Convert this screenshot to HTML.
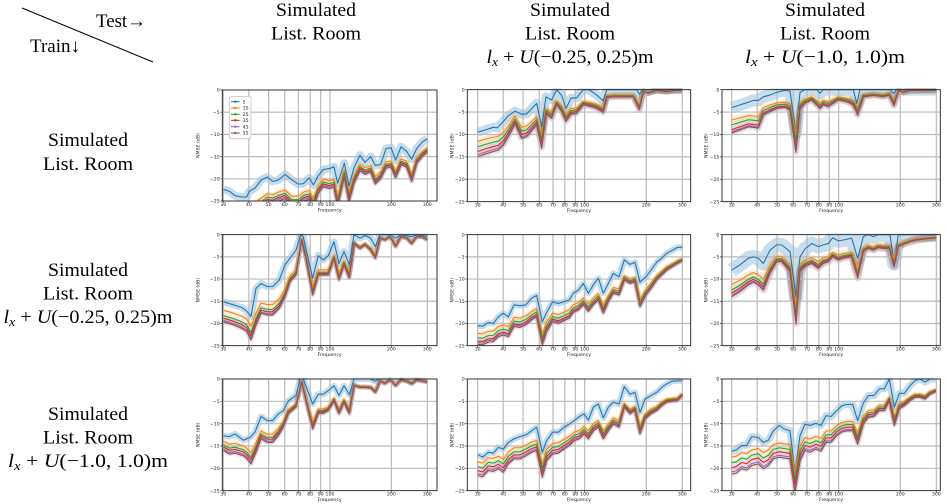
<!DOCTYPE html>
<html><head><meta charset="utf-8"><style>
html,body{margin:0;padding:0;background:#fff;overflow:hidden}
svg{display:block}
path,line,rect,circle,use{vector-effect:non-scaling-stroke}
.t{font-family:"Liberation Serif",serif;font-size:19px;fill:#000}
.k{font-family:"DejaVu Sans","Liberation Sans",sans-serif;font-size:14px;fill:#222}
</style></head><body>
<svg width="949" height="504" viewBox="0 0 949 504">
<defs>
<clipPath id="c1"><rect x="97" y="-0.3" width="644" height="25.3"/></clipPath>
<clipPath id="c2"><rect x="82" y="-0.3" width="670" height="25.3"/></clipPath>
<clipPath id="c3"><rect x="96" y="-0.3" width="655" height="25.3"/></clipPath>
<path id="b11" vector-effect="non-scaling-stroke" d="M100,22.4 118,22.8 135,23.8 155,24.1 170,24.1 178,22.8 195,22.1 213,20.3 232,19.6 248,20.6 265,20.3 285,19 305,20.2 325,21.2 340,21.1 358,19.8 370,21.4 385,19.3 400,17.9 418,17.7 432,17.3 443,21 463,16.5 477,21.6 492,17.5 510,14.7 525,16.3 542,15 556,17 572,16.8 588,13.2 603,13 617,15.8 633,12.8 650,13.8 665,15.6 680,13.2 697,11.7 712,11"/>
<path id="r11" vector-effect="non-scaling-stroke" d="M100,29 135,30 170,30 178,28.5 195,27.5 213,26.5 232,25.4 248,25.6 265,25 285,24.5 305,26 325,26 340,25 358,24.6 370,26.5 385,23.3 400,21.8 418,22.2 432,21.9 443,26.2 463,19.5 477,25.2 492,21 510,18.2 525,19 542,18.5 556,21.2 572,20 588,17.6 603,17.4 617,19.8 633,16.9 650,17.4 665,20.6 680,16.6 697,15 712,14"/>
<path id="b12" vector-effect="non-scaling-stroke" d="M113,9.5 135,9 160,8.4 172,8.5 190,7.1 205,5.8 225,4.8 245,5.5 260,5.4 290,3.05 305,8.3 318,1.6 335,2.3 350,0 365,1.3 378,4.2 393,1.9 410,1.8 430,0 445,0 455,0.4 470,1.2 490,2.5 500,0 590,0 598,1 610,0 727,0"/>
<path id="r12" vector-effect="non-scaling-stroke" d="M113,15 135,14.4 160,13.8 175,13.5 190,12.4 205,10.5 225,7.7 245,10.9 260,10.5 290,7.9 305,13.1 318,5.5 335,6.4 350,3.3 365,4.9 378,7.1 393,5.5 410,5.3 430,3.4 455,3.8 470,4.2 490,5.1 500,1.8 520,1.6 550,1.6 580,1.6 598,4.5 610,0.45 625,0.8 650,0.15 680,0.45 700,0.2 727,0.1"/>
<path id="b13" vector-effect="non-scaling-stroke" d="M125,4 150,3.4 175,2.8 190,2.4 205,2.4 220,1.6 240,1.2 260,0.6 285,0.15 300,0.3 318,9.7 330,0.6 345,0 380,0 390,0.8 400,0 490,0 500,3.05 510,0 600,0 610,0.8 620,0 739,0"/>
<path id="r13" vector-effect="non-scaling-stroke" d="M125,9.7 150,9 175,8.3 190,8.4 205,8.6 220,5.7 240,4.9 260,4.2 285,4 300,4.5 318,14 330,4.2 345,3.05 365,2.3 390,4.2 400,3.4 415,3.8 430,3.05 445,2.3 470,2.7 490,3.4 503,5.7 520,1.6 550,1.3 580,1.6 598,1.2 612,3.6 625,0.3 640,0.6 660,0.15 700,0.2 739,0.15"/>
<path id="b21" vector-effect="non-scaling-stroke" d="M100,15.1 130,15.8 155,16.4 170,17.2 183,18.4 198,12.1 213,11 232,11.7 248,11.7 268,10.2 285,6.8 300,5.3 318,3.5 332,0 340,0.5 368,9.8 385,4.7 400,5.7 415,4.7 432,1.6 447,6.5 462,3.8 478,6.8 492,0 510,0.8 525,0.2 542,0.8 556,2.7 570,0 600,0 617,0.8 633,0 665,0.45 680,0 712,0.4"/>
<path id="r21" vector-effect="non-scaling-stroke" d="M100,19.6 130,20.3 155,21.1 170,21.8 183,23.7 198,20.3 213,17.7 232,18.1 248,18.1 268,16.6 285,14 300,10.6 318,9.1 335,1.2 348,5.3 368,13.6 385,9.1 400,9.1 415,9.1 432,5.3 447,10.2 462,6.8 478,9.8 492,2 510,3.1 525,2.3 542,3.5 556,5.3 570,0.8 585,1.2 600,0.45 617,2.7 633,0.45 650,0.8 665,2 680,0.45 697,0.45 712,1.2"/>
<path id="b22" vector-effect="non-scaling-stroke" d="M113,20.5 128,20.6 145,19.8 160,20 175,18.5 190,17.7 205,18.5 222,15.8 240,16 258,15.8 275,14.3 290,13.7 307,19.6 320,17.5 338,15.1 355,15.5 372,15.1 388,14.7 400,13.2 415,12.5 430,11 445,13.2 460,11.3 475,9.8 490,13.2 505,11 520,8.7 537,9.5 553,5.7 570,6.7 585,6.2 600,10.7 618,9.5 633,8 650,6.2 665,5.3 680,4.2 697,3.5 712,2.9 727,2.8"/>
<path id="r22" vector-effect="non-scaling-stroke" d="M113,24.7 128,24.8 145,24.2 160,24.1 175,23 190,22.6 205,23 222,20.7 240,20.9 258,20.3 275,19.2 290,18.5 307,24.8 320,21.8 338,19.6 355,20 372,19.4 388,18.8 400,17.5 415,17 430,15.8 445,17.3 460,15.8 475,14.7 490,17.7 505,15.1 520,13.2 537,13.6 553,10.2 570,11 585,10.6 600,16.2 618,13.6 633,12.1 650,10.2 665,9.1 680,8 697,7.2 712,6.5 727,5.9"/>
<path id="b23" vector-effect="non-scaling-stroke" d="M125,8 150,6.8 175,5.3 190,5 205,5.3 220,6.5 240,3.5 260,2.3 275,2.3 300,3.8 318,14 330,5 345,3.2 365,2 385,2.7 400,2.3 415,2 428,0.7 445,1.4 460,1.2 485,0.8 503,5.3 520,0.45 535,0 550,0.45 565,0 600,0 612,6.5 625,0 739,0"/>
<path id="r23" vector-effect="non-scaling-stroke" d="M125,14 150,12.8 175,11.3 190,10.7 205,11.3 220,12.5 240,8.7 260,6.1 275,6.1 300,8.3 318,20.1 330,8.3 345,7.2 365,6.5 385,7.6 400,6.5 415,6.1 428,5 445,5.7 460,5.3 485,5 503,9.8 520,3.8 535,3.1 550,3.5 565,2.9 580,3.1 598,3.1 612,7.2 625,2.7 640,2.2 660,1.6 680,1.2 700,1 739,0.7"/>
<path id="b31" vector-effect="non-scaling-stroke" d="M100,12.7 118,12.9 135,12.3 160,13.7 180,13.1 195,11.9 213,8.4 232,9.3 248,9.3 265,7.8 280,7.1 295,4.9 318,3.7 330,0 340,0 368,5.6 385,3.4 400,3.4 415,2.6 432,1.5 447,3.7 462,1.5 478,3.5 492,0 540,0 556,0.5 570,0 712,0"/>
<path id="r31" vector-effect="non-scaling-stroke" d="M100,16 118,16.8 135,16.6 160,17.2 170,17.8 183,19 198,16.4 213,13.4 232,14.2 248,14.2 265,12.7 280,10.8 295,7.8 318,6.3 335,0.7 348,4.9 368,11.2 385,7.7 400,7.7 415,7.1 432,4.9 447,7.8 462,5.2 478,7.8 492,1.5 510,1.9 525,1.9 542,2 556,3 570,0.5 585,1 600,0.2 617,1.5 633,0.2 650,0.5 665,1.1 680,0.2 712,0.7"/>
<path id="b32" vector-effect="non-scaling-stroke" d="M113,16.9 128,17.5 145,16.4 160,16.6 175,15.3 190,15.7 205,14.2 222,13.4 240,12.9 258,12.5 275,11.6 290,10.8 307,16.4 320,13.8 338,11.9 355,11.9 372,10.8 388,10.1 403,9.3 418,8.4 432,7.8 445,9.2 460,6.3 475,5.6 490,8.7 505,6.3 520,5.2 537,5.6 553,1.7 570,3.4 585,3 600,7.5 615,4.5 633,3.7 650,3 665,1.9 680,1.1 697,0.5 712,0.4 727,0.4"/>
<path id="r32" vector-effect="non-scaling-stroke" d="M113,21.6 128,21.9 145,20.5 160,20.7 175,20.1 190,20.9 205,19 222,17.9 240,17.9 258,17.2 275,16.4 290,16 307,22 320,18.3 338,16.8 355,16.6 372,15.7 388,14.9 403,13.8 418,13.4 432,12.3 445,13.4 460,11.6 475,10.8 490,13.4 505,11.6 520,10.1 537,10.8 553,6.3 570,7.8 585,7.1 600,12.3 615,9 633,7.8 650,7.1 665,6 680,5.2 697,5 712,4.9 727,3.7"/>
<path id="b33" vector-effect="non-scaling-stroke" d="M125,16.2 138,15.9 155,14.9 170,14.9 185,12.9 205,13.1 220,14.2 235,13.7 250,11.6 268,10.4 283,11.2 300,11.6 315,20.9 330,12.7 345,10.1 360,10.4 378,9.9 393,10.4 408,8.2 423,8.4 440,7.1 455,6 470,5.7 488,5.7 503,9.3 520,5.4 535,3.7 552,3.7 568,2.2 583,2.2 598,0 613,6.3 628,3.2 643,3.2 660,1.5 675,0.4 690,0 705,0.7 720,0 738,0"/>
<path id="r33" vector-effect="non-scaling-stroke" d="M125,21.3 138,21.1 155,20.1 170,20.4 185,19.4 205,19 220,20.1 235,19.4 250,17.9 268,17.5 283,17.7 300,17.9 315,25.4 330,18.3 345,16 360,16.4 378,15.7 393,16.2 408,14.2 423,14.2 440,12.7 455,11.9 470,11.6 488,11.6 503,14.6 520,10.1 535,8.6 552,8.4 568,7.1 583,7.1 598,4.9 613,10.4 628,6.7 643,6 660,4.9 675,4.1 690,4.1 705,4.5 720,3.4 738,2.8"/>
</defs>

<rect x="0" y="0" width="949" height="504" fill="#fff"/>

<!-- corner -->
<line x1="22" y1="8" x2="153" y2="62" stroke="#000" stroke-width="1"/>
<text class="t" x="96" y="27" textLength="50" lengthAdjust="spacingAndGlyphs">Test→</text>
<text class="t" x="30" y="52" textLength="50" lengthAdjust="spacingAndGlyphs">Train↓</text>

<!-- column headers -->
<text class="t" x="316" y="16" text-anchor="middle" textLength="80" lengthAdjust="spacingAndGlyphs">Simulated</text>
<text class="t" x="316" y="39.5" text-anchor="middle" textLength="90" lengthAdjust="spacingAndGlyphs">List. Room</text>
<text class="t" x="570" y="16" text-anchor="middle" textLength="80" lengthAdjust="spacingAndGlyphs">Simulated</text>
<text class="t" x="570" y="39.5" text-anchor="middle" textLength="90" lengthAdjust="spacingAndGlyphs">List. Room</text>
<text class="t" x="570" y="63" text-anchor="middle" textLength="167" lengthAdjust="spacingAndGlyphs"><tspan font-style="italic">l</tspan><tspan font-style="italic" font-size="13" dy="3">x</tspan><tspan dy="-3"> + </tspan><tspan font-style="italic">U</tspan>(−0.25, 0.25)m</text>
<text class="t" x="825" y="16" text-anchor="middle" textLength="80" lengthAdjust="spacingAndGlyphs">Simulated</text>
<text class="t" x="825" y="39.5" text-anchor="middle" textLength="90" lengthAdjust="spacingAndGlyphs">List. Room</text>
<text class="t" x="825" y="63" text-anchor="middle" textLength="160" lengthAdjust="spacingAndGlyphs"><tspan font-style="italic">l</tspan><tspan font-style="italic" font-size="13" dy="3">x</tspan><tspan dy="-3"> + </tspan><tspan font-style="italic">U</tspan>(−1.0, 1.0)m</text>

<!-- row labels -->
<text class="t" x="88" y="146" text-anchor="middle" textLength="80" lengthAdjust="spacingAndGlyphs">Simulated</text>
<text class="t" x="88" y="170" text-anchor="middle" textLength="90" lengthAdjust="spacingAndGlyphs">List. Room</text>
<text class="t" x="88" y="276" text-anchor="middle" textLength="80" lengthAdjust="spacingAndGlyphs">Simulated</text>
<text class="t" x="88" y="299.5" text-anchor="middle" textLength="90" lengthAdjust="spacingAndGlyphs">List. Room</text>
<text class="t" x="88" y="323" text-anchor="middle" textLength="169" lengthAdjust="spacingAndGlyphs"><tspan font-style="italic">l</tspan><tspan font-style="italic" font-size="13" dy="3">x</tspan><tspan dy="-3"> + </tspan><tspan font-style="italic">U</tspan>(−0.25, 0.25)m</text>
<text class="t" x="88" y="420" text-anchor="middle" textLength="80" lengthAdjust="spacingAndGlyphs">Simulated</text>
<text class="t" x="88" y="443.5" text-anchor="middle" textLength="90" lengthAdjust="spacingAndGlyphs">List. Room</text>
<text class="t" x="88" y="467" text-anchor="middle" textLength="160" lengthAdjust="spacingAndGlyphs"><tspan font-style="italic">l</tspan><tspan font-style="italic" font-size="13" dy="3">x</tspan><tspan dy="-3"> + </tspan><tspan font-style="italic">U</tspan>(−1.0, 1.0)m</text>

<!-- ============ P11 ============ -->
<g transform="translate(190,80) scale(0.333333)">
 <g transform="translate(0,30) scale(1,13.32)"><g clip-path="url(#c1)" fill="none" stroke-linejoin="round" stroke-width="4.5" stroke-opacity=".16">
  <use href="#b11" stroke="#1f77b4" stroke-width="8" stroke-opacity=".26"/>
  <use href="#r11" transform="scale(1,.92)" stroke="#ff7f0e"/>
  <use href="#r11" transform="scale(1,.95)" stroke="#2ca02c"/>
  <use href="#r11" transform="scale(1,.97)" stroke="#d62728"/>
  <use href="#r11" transform="scale(1,.985)" stroke="#9467bd"/>
  <use href="#r11" stroke="#8c564b"/>
 </g></g>
 <path fill="none" stroke="#bbb" stroke-width="1.2" d="M100,30V363M176.5,30V363M235.8,30V363M284.2,30V363M325.2,30V363M360.7,30V363M392,30V363M420,30V363M604.2,30V363M712,30V363M97,96.6H741M97,163.2H741M97,229.8H741M97,296.4H741"/>
 <g transform="translate(0,30) scale(1,13.32)"><g clip-path="url(#c1)" fill="none" stroke-linejoin="round" stroke-width="1.1">
  <use href="#b11" stroke="#1f77b4"/>
  <use href="#r11" transform="scale(1,.92)" stroke="#ff7f0e"/>
  <use href="#r11" transform="scale(1,.95)" stroke="#2ca02c"/>
  <use href="#r11" transform="scale(1,.97)" stroke="#d62728"/>
  <use href="#r11" transform="scale(1,.985)" stroke="#9467bd"/>
  <use href="#r11" stroke="#8c564b"/>
 </g></g>
 <rect x="97" y="30" width="644" height="333" fill="none" stroke="#333" stroke-width="1"/>
 <path stroke="#333" stroke-width=".7" d="M100,363v6M176.5,363v6M235.8,363v6M284.2,363v6M325.2,363v6M360.7,363v6M392,363v6M420,363v6M604.2,363v6M712,363v6M97,30h-6M97,96.6h-6M97,163.2h-6M97,229.8h-6M97,296.4h-6M97,363h-6"/>
 <rect x="118" y="50" width="65" height="126" rx="5" fill="#fff" fill-opacity=".85" stroke="#ccc" stroke-width="1"/>
 <g stroke-width="1.1">
  <path stroke="#1f77b4" d="M123,65H149"/><circle cx="136" cy="65" r="3.5" fill="#1f77b4"/>
  <path stroke="#ff7f0e" d="M123,84H149"/><circle cx="136" cy="84" r="3.5" fill="#ff7f0e"/>
  <path stroke="#2ca02c" d="M123,103H149"/><circle cx="136" cy="103" r="3.5" fill="#2ca02c"/>
  <path stroke="#d62728" d="M123,121H149"/><circle cx="136" cy="121" r="3.5" fill="#d62728"/>
  <path stroke="#9467bd" d="M123,140H149"/><circle cx="136" cy="140" r="3.5" fill="#9467bd"/>
  <path stroke="#8c564b" d="M123,159H149"/><circle cx="136" cy="159" r="3.5" fill="#8c564b"/>
 </g>
 <g class="k" font-size="13"><text x="158" y="70">5</text><text x="158" y="89">15</text><text x="158" y="108">25</text><text x="158" y="126">35</text><text x="158" y="145">45</text><text x="158" y="164">55</text></g>
 <g class="k" text-anchor="end"><text x="89" y="35">0</text><text x="89" y="101.6">−5</text><text x="89" y="168.2">−10</text><text x="89" y="234.8">−15</text><text x="89" y="301.4">−20</text><text x="89" y="368">−25</text></g>
 <g class="k" text-anchor="middle"><text x="100" y="378">30</text><text x="176.5" y="378">40</text><text x="235.8" y="378">50</text><text x="284.2" y="378">60</text><text x="325.2" y="378">70</text><text x="360.7" y="378">80</text><text x="392" y="378">90</text><text x="420" y="378">100</text><text x="604.2" y="378">200</text><text x="712" y="378">300</text><text x="419" y="394">Frequency</text></g>
 <text class="k" text-anchor="middle" transform="translate(28,196.5) rotate(-90)">NMSE (dB)</text>
</g>

<!-- ============ P12 ============ -->
<g transform="translate(440,75) scale(0.333333)">
 <g transform="translate(0,44) scale(1,13.44)"><g clip-path="url(#c2)" fill="none" stroke-linejoin="round" stroke-width="6" stroke-opacity=".15">
  <use href="#b12" stroke="#1f77b4" stroke-width="9" stroke-opacity=".26"/>
  <use href="#r12" transform="scale(1,.77)" stroke="#ff7f0e"/>
  <use href="#r12" transform="scale(1,.85)" stroke="#2ca02c"/>
  <use href="#r12" transform="scale(1,.92)" stroke="#d62728"/>
  <use href="#r12" transform="scale(1,.97)" stroke="#9467bd"/>
  <use href="#r12" stroke="#8c564b"/>
 </g></g>
 <path fill="none" stroke="#bbb" stroke-width="1.2" d="M113,44V380M189.7,44V380M249.2,44V380M297.8,44V380M339,44V380M374.6,44V380M406,44V380M434,44V380M618.9,44V380M727,44V380M82,111.2H752M82,178.4H752M82,245.6H752M82,312.8H752"/>
 <g transform="translate(0,44) scale(1,13.44)"><g clip-path="url(#c2)" fill="none" stroke-linejoin="round" stroke-width="1.1">
  <use href="#b12" stroke="#1f77b4"/>
  <use href="#r12" transform="scale(1,.77)" stroke="#ff7f0e"/>
  <use href="#r12" transform="scale(1,.85)" stroke="#2ca02c"/>
  <use href="#r12" transform="scale(1,.92)" stroke="#d62728"/>
  <use href="#r12" transform="scale(1,.97)" stroke="#9467bd"/>
  <use href="#r12" stroke="#8c564b"/>
 </g></g>
 <rect x="82" y="44" width="670" height="336" fill="none" stroke="#333" stroke-width="1"/>
 <path stroke="#333" stroke-width=".7" d="M113,380v6M189.7,380v6M249.2,380v6M297.8,380v6M339,380v6M374.6,380v6M406,380v6M434,380v6M618.9,380v6M727,380v6M82,44h-6M82,111.2h-6M82,178.4h-6M82,245.6h-6M82,312.8h-6M82,380h-6"/>
 <g class="k" text-anchor="end"><text x="74" y="49">0</text><text x="74" y="116.2">−5</text><text x="74" y="183.4">−10</text><text x="74" y="250.6">−15</text><text x="74" y="317.8">−20</text><text x="74" y="385">−25</text></g>
 <g class="k" text-anchor="middle"><text x="113" y="395">30</text><text x="189.7" y="395">40</text><text x="249.2" y="395">50</text><text x="297.8" y="395">60</text><text x="339" y="395">70</text><text x="374.6" y="395">80</text><text x="406" y="395">90</text><text x="434" y="395">100</text><text x="618.9" y="395">200</text><text x="727" y="395">300</text><text x="417" y="411">Frequency</text></g>
 <text class="k" text-anchor="middle" transform="translate(41,212) rotate(-90)">NMSE (dB)</text>
</g>

<!-- ============ P13 ============ -->
<g transform="translate(690,75) scale(0.333333)">
 <g transform="translate(0,44) scale(1,13.44)"><g clip-path="url(#c3)" fill="none" stroke-linejoin="round" stroke-width="6" stroke-opacity=".14">
  <use href="#b13" stroke="#1f77b4" stroke-width="12" stroke-opacity=".24"/>
  <use href="#r13" transform="scale(1,.7)" stroke="#ff7f0e"/>
  <use href="#r13" transform="scale(1,.81)" stroke="#2ca02c"/>
  <use href="#r13" transform="scale(1,.92)" stroke="#d62728"/>
  <use href="#r13" transform="scale(1,.97)" stroke="#9467bd"/>
  <use href="#r13" stroke="#8c564b"/>
 </g></g>
 <path fill="none" stroke="#bbb" stroke-width="1.2" d="M125,44V380M201.7,44V380M261.2,44V380M309.8,44V380M351,44V380M386.6,44V380M418,44V380M446,44V380M630.9,44V380M739,44V380M96,111.2H751M96,178.4H751M96,245.6H751M96,312.8H751"/>
 <g transform="translate(0,44) scale(1,13.44)"><g clip-path="url(#c3)" fill="none" stroke-linejoin="round" stroke-width="1.1">
  <use href="#b13" stroke="#1f77b4"/>
  <use href="#r13" transform="scale(1,.7)" stroke="#ff7f0e"/>
  <use href="#r13" transform="scale(1,.81)" stroke="#2ca02c"/>
  <use href="#r13" transform="scale(1,.92)" stroke="#d62728"/>
  <use href="#r13" transform="scale(1,.97)" stroke="#9467bd"/>
  <use href="#r13" stroke="#8c564b"/>
 </g></g>
 <rect x="96" y="44" width="655" height="336" fill="none" stroke="#333" stroke-width="1"/>
 <path stroke="#333" stroke-width=".7" d="M125,380v6M201.7,380v6M261.2,380v6M309.8,380v6M351,380v6M386.6,380v6M418,380v6M446,380v6M630.9,380v6M739,380v6M96,44h-6M96,111.2h-6M96,178.4h-6M96,245.6h-6M96,312.8h-6M96,380h-6"/>
 <g class="k" text-anchor="end"><text x="88" y="49">0</text><text x="88" y="116.2">−5</text><text x="88" y="183.4">−10</text><text x="88" y="250.6">−15</text><text x="88" y="317.8">−20</text><text x="88" y="385">−25</text></g>
 <g class="k" text-anchor="middle"><text x="125" y="395">30</text><text x="201.7" y="395">40</text><text x="261.2" y="395">50</text><text x="309.8" y="395">60</text><text x="351" y="395">70</text><text x="386.6" y="395">80</text><text x="418" y="395">90</text><text x="446" y="395">100</text><text x="630.9" y="395">200</text><text x="739" y="395">300</text><text x="423.5" y="411">Frequency</text></g>
 <text class="k" text-anchor="middle" transform="translate(52,212) rotate(-90)">NMSE (dB)</text>
</g>

<!-- ============ P21 ============ -->
<g transform="translate(190,225) scale(0.333333)">
 <g transform="translate(0,29) scale(1,13.32)"><g clip-path="url(#c1)" fill="none" stroke-linejoin="round" stroke-width="4.5" stroke-opacity=".16">
  <use href="#b21" stroke="#1f77b4" stroke-width="7" stroke-opacity=".26"/>
  <use href="#r21" transform="scale(1,.87)" stroke="#ff7f0e"/>
  <use href="#r21" transform="scale(1,.93)" stroke="#2ca02c"/>
  <use href="#r21" transform="scale(1,.96)" stroke="#d62728"/>
  <use href="#r21" transform="scale(1,.985)" stroke="#9467bd"/>
  <use href="#r21" stroke="#8c564b"/>
 </g></g>
 <path fill="none" stroke="#bbb" stroke-width="1.2" d="M100,29V362M176.5,29V362M235.8,29V362M284.2,29V362M325.2,29V362M360.7,29V362M392,29V362M420,29V362M604.2,29V362M712,29V362M97,95.6H741M97,162.2H741M97,228.8H741M97,295.4H741"/>
 <g transform="translate(0,29) scale(1,13.32)"><g clip-path="url(#c1)" fill="none" stroke-linejoin="round" stroke-width="1.1">
  <use href="#b21" stroke="#1f77b4"/>
  <use href="#r21" transform="scale(1,.87)" stroke="#ff7f0e"/>
  <use href="#r21" transform="scale(1,.93)" stroke="#2ca02c"/>
  <use href="#r21" transform="scale(1,.96)" stroke="#d62728"/>
  <use href="#r21" transform="scale(1,.985)" stroke="#9467bd"/>
  <use href="#r21" stroke="#8c564b"/>
 </g></g>
 <rect x="97" y="29" width="644" height="333" fill="none" stroke="#333" stroke-width="1"/>
 <path stroke="#333" stroke-width=".7" d="M100,362v6M176.5,362v6M235.8,362v6M284.2,362v6M325.2,362v6M360.7,362v6M392,362v6M420,362v6M604.2,362v6M712,362v6M97,29h-6M97,95.6h-6M97,162.2h-6M97,228.8h-6M97,295.4h-6M97,362h-6"/>
 <g class="k" text-anchor="end"><text x="89" y="34">0</text><text x="89" y="100.6">−5</text><text x="89" y="167.2">−10</text><text x="89" y="233.8">−15</text><text x="89" y="300.4">−20</text><text x="89" y="367">−25</text></g>
 <g class="k" text-anchor="middle"><text x="100" y="377">30</text><text x="176.5" y="377">40</text><text x="235.8" y="377">50</text><text x="284.2" y="377">60</text><text x="325.2" y="377">70</text><text x="360.7" y="377">80</text><text x="392" y="377">90</text><text x="420" y="377">100</text><text x="604.2" y="377">200</text><text x="712" y="377">300</text><text x="419" y="393">Frequency</text></g>
 <text class="k" text-anchor="middle" transform="translate(28,195.5) rotate(-90)">NMSE (dB)</text>
</g>

<!-- ============ P22 ============ -->
<g transform="translate(440,225) scale(0.333333)">
 <g transform="translate(0,29) scale(1,13.32)"><g clip-path="url(#c2)" fill="none" stroke-linejoin="round" stroke-width="4.5" stroke-opacity=".16">
  <use href="#b22" stroke="#1f77b4" stroke-width="6" stroke-opacity=".26"/>
  <use href="#r22" transform="scale(1,.9)" stroke="#ff7f0e"/>
  <use href="#r22" transform="scale(1,.94)" stroke="#2ca02c"/>
  <use href="#r22" transform="scale(1,.97)" stroke="#d62728"/>
  <use href="#r22" transform="scale(1,.985)" stroke="#9467bd"/>
  <use href="#r22" stroke="#8c564b"/>
 </g></g>
 <path fill="none" stroke="#bbb" stroke-width="1.2" d="M113,29V362M189.7,29V362M249.2,29V362M297.8,29V362M339,29V362M374.6,29V362M406,29V362M434,29V362M618.9,29V362M727,29V362M82,95.6H752M82,162.2H752M82,228.8H752M82,295.4H752"/>
 <g transform="translate(0,29) scale(1,13.32)"><g clip-path="url(#c2)" fill="none" stroke-linejoin="round" stroke-width="1.1">
  <use href="#b22" stroke="#1f77b4"/>
  <use href="#r22" transform="scale(1,.9)" stroke="#ff7f0e"/>
  <use href="#r22" transform="scale(1,.94)" stroke="#2ca02c"/>
  <use href="#r22" transform="scale(1,.97)" stroke="#d62728"/>
  <use href="#r22" transform="scale(1,.985)" stroke="#9467bd"/>
  <use href="#r22" stroke="#8c564b"/>
 </g></g>
 <rect x="82" y="29" width="670" height="333" fill="none" stroke="#333" stroke-width="1"/>
 <path stroke="#333" stroke-width=".7" d="M113,362v6M189.7,362v6M249.2,362v6M297.8,362v6M339,362v6M374.6,362v6M406,362v6M434,362v6M618.9,362v6M727,362v6M82,29h-6M82,95.6h-6M82,162.2h-6M82,228.8h-6M82,295.4h-6M82,362h-6"/>
 <g class="k" text-anchor="end"><text x="74" y="34">0</text><text x="74" y="100.6">−5</text><text x="74" y="167.2">−10</text><text x="74" y="233.8">−15</text><text x="74" y="300.4">−20</text><text x="74" y="367">−25</text></g>
 <g class="k" text-anchor="middle"><text x="113" y="377">30</text><text x="189.7" y="377">40</text><text x="249.2" y="377">50</text><text x="297.8" y="377">60</text><text x="339" y="377">70</text><text x="374.6" y="377">80</text><text x="406" y="377">90</text><text x="434" y="377">100</text><text x="618.9" y="377">200</text><text x="727" y="377">300</text><text x="417" y="393">Frequency</text></g>
 <text class="k" text-anchor="middle" transform="translate(41,195.5) rotate(-90)">NMSE (dB)</text>
</g>

<!-- ============ P23 ============ -->
<g transform="translate(690,225) scale(0.333333)">
 <g transform="translate(0,29) scale(1,13.32)"><g clip-path="url(#c3)" fill="none" stroke-linejoin="round" stroke-width="7" stroke-opacity=".13">
  <use href="#b23" stroke="#1f77b4" stroke-width="14" stroke-opacity=".24"/>
  <use href="#r23" transform="scale(1,.8)" stroke="#ff7f0e"/>
  <use href="#r23" transform="scale(1,.89)" stroke="#2ca02c"/>
  <use href="#r23" transform="scale(1,.94)" stroke="#d62728"/>
  <use href="#r23" transform="scale(1,.98)" stroke="#9467bd"/>
  <use href="#r23" stroke="#8c564b"/>
 </g></g>
 <path fill="none" stroke="#bbb" stroke-width="1.2" d="M125,29V362M201.7,29V362M261.2,29V362M309.8,29V362M351,29V362M386.6,29V362M418,29V362M446,29V362M630.9,29V362M739,29V362M96,95.6H751M96,162.2H751M96,228.8H751M96,295.4H751"/>
 <g transform="translate(0,29) scale(1,13.32)"><g clip-path="url(#c3)" fill="none" stroke-linejoin="round" stroke-width="1.1">
  <use href="#b23" stroke="#1f77b4"/>
  <use href="#r23" transform="scale(1,.8)" stroke="#ff7f0e"/>
  <use href="#r23" transform="scale(1,.89)" stroke="#2ca02c"/>
  <use href="#r23" transform="scale(1,.94)" stroke="#d62728"/>
  <use href="#r23" transform="scale(1,.98)" stroke="#9467bd"/>
  <use href="#r23" stroke="#8c564b"/>
 </g></g>
 <rect x="96" y="29" width="655" height="333" fill="none" stroke="#333" stroke-width="1"/>
 <path stroke="#333" stroke-width=".7" d="M125,362v6M201.7,362v6M261.2,362v6M309.8,362v6M351,362v6M386.6,362v6M418,362v6M446,362v6M630.9,362v6M739,362v6M96,29h-6M96,95.6h-6M96,162.2h-6M96,228.8h-6M96,295.4h-6M96,362h-6"/>
 <g class="k" text-anchor="end"><text x="88" y="34">0</text><text x="88" y="100.6">−5</text><text x="88" y="167.2">−10</text><text x="88" y="233.8">−15</text><text x="88" y="300.4">−20</text><text x="88" y="367">−25</text></g>
 <g class="k" text-anchor="middle"><text x="125" y="377">30</text><text x="201.7" y="377">40</text><text x="261.2" y="377">50</text><text x="309.8" y="377">60</text><text x="351" y="377">70</text><text x="386.6" y="377">80</text><text x="418" y="377">90</text><text x="446" y="377">100</text><text x="630.9" y="377">200</text><text x="739" y="377">300</text><text x="423.5" y="393">Frequency</text></g>
 <text class="k" text-anchor="middle" transform="translate(52,195.5) rotate(-90)">NMSE (dB)</text>
</g>

<!-- ============ P31 ============ -->
<g transform="translate(190,364) scale(0.333333)">
 <g transform="translate(0,45) scale(1,13.4)"><g clip-path="url(#c1)" fill="none" stroke-linejoin="round" stroke-width="4.5" stroke-opacity=".16">
  <use href="#b31" stroke="#1f77b4" stroke-width="6" stroke-opacity=".26"/>
  <use href="#r31" transform="scale(1,.87)" stroke="#ff7f0e"/>
  <use href="#r31" transform="scale(1,.92)" stroke="#2ca02c"/>
  <use href="#r31" transform="scale(1,.95)" stroke="#d62728"/>
  <use href="#r31" transform="scale(1,.98)" stroke="#9467bd"/>
  <use href="#r31" stroke="#8c564b"/>
 </g></g>
 <path fill="none" stroke="#bbb" stroke-width="1.2" d="M100,45V380M176.5,45V380M235.8,45V380M284.2,45V380M325.2,45V380M360.7,45V380M392,45V380M420,45V380M604.2,45V380M712,45V380M97,112H741M97,179H741M97,246H741M97,313H741"/>
 <g transform="translate(0,45) scale(1,13.4)"><g clip-path="url(#c1)" fill="none" stroke-linejoin="round" stroke-width="1.1">
  <use href="#b31" stroke="#1f77b4"/>
  <use href="#r31" transform="scale(1,.87)" stroke="#ff7f0e"/>
  <use href="#r31" transform="scale(1,.92)" stroke="#2ca02c"/>
  <use href="#r31" transform="scale(1,.95)" stroke="#d62728"/>
  <use href="#r31" transform="scale(1,.98)" stroke="#9467bd"/>
  <use href="#r31" stroke="#8c564b"/>
 </g></g>
 <rect x="97" y="45" width="644" height="335" fill="none" stroke="#333" stroke-width="1"/>
 <path stroke="#333" stroke-width=".7" d="M100,380v6M176.5,380v6M235.8,380v6M284.2,380v6M325.2,380v6M360.7,380v6M392,380v6M420,380v6M604.2,380v6M712,380v6M97,45h-6M97,112h-6M97,179h-6M97,246h-6M97,313h-6M97,380h-6"/>
 <g class="k" text-anchor="end"><text x="89" y="50">0</text><text x="89" y="117">−5</text><text x="89" y="184">−10</text><text x="89" y="251">−15</text><text x="89" y="318">−20</text><text x="89" y="385">−25</text></g>
 <g class="k" text-anchor="middle"><text x="100" y="395">30</text><text x="176.5" y="395">40</text><text x="235.8" y="395">50</text><text x="284.2" y="395">60</text><text x="325.2" y="395">70</text><text x="360.7" y="395">80</text><text x="392" y="395">90</text><text x="420" y="395">100</text><text x="604.2" y="395">200</text><text x="712" y="395">300</text><text x="419" y="411">Frequency</text></g>
 <text class="k" text-anchor="middle" transform="translate(28,212.5) rotate(-90)">NMSE (dB)</text>
</g>

<!-- ============ P32 ============ -->
<g transform="translate(440,364) scale(0.333333)">
 <g transform="translate(0,45) scale(1,13.4)"><g clip-path="url(#c2)" fill="none" stroke-linejoin="round" stroke-width="4.5" stroke-opacity=".16">
  <use href="#b32" stroke="#1f77b4" stroke-width="6" stroke-opacity=".26"/>
  <use href="#r32" transform="scale(1,.86)" stroke="#ff7f0e"/>
  <use href="#r32" transform="scale(1,.91)" stroke="#2ca02c"/>
  <use href="#r32" transform="scale(1,.95)" stroke="#d62728"/>
  <use href="#r32" transform="scale(1,.98)" stroke="#9467bd"/>
  <use href="#r32" stroke="#8c564b"/>
 </g></g>
 <path fill="none" stroke="#bbb" stroke-width="1.2" d="M113,45V380M189.7,45V380M249.2,45V380M297.8,45V380M339,45V380M374.6,45V380M406,45V380M434,45V380M618.9,45V380M727,45V380M82,112H752M82,179H752M82,246H752M82,313H752"/>
 <g transform="translate(0,45) scale(1,13.4)"><g clip-path="url(#c2)" fill="none" stroke-linejoin="round" stroke-width="1.1">
  <use href="#b32" stroke="#1f77b4"/>
  <use href="#r32" transform="scale(1,.86)" stroke="#ff7f0e"/>
  <use href="#r32" transform="scale(1,.91)" stroke="#2ca02c"/>
  <use href="#r32" transform="scale(1,.95)" stroke="#d62728"/>
  <use href="#r32" transform="scale(1,.98)" stroke="#9467bd"/>
  <use href="#r32" stroke="#8c564b"/>
 </g></g>
 <rect x="82" y="45" width="670" height="335" fill="none" stroke="#333" stroke-width="1"/>
 <path stroke="#333" stroke-width=".7" d="M113,380v6M189.7,380v6M249.2,380v6M297.8,380v6M339,380v6M374.6,380v6M406,380v6M434,380v6M618.9,380v6M727,380v6M82,45h-6M82,112h-6M82,179h-6M82,246h-6M82,313h-6M82,380h-6"/>
 <g class="k" text-anchor="end"><text x="74" y="50">0</text><text x="74" y="117">−5</text><text x="74" y="184">−10</text><text x="74" y="251">−15</text><text x="74" y="318">−20</text><text x="74" y="385">−25</text></g>
 <g class="k" text-anchor="middle"><text x="113" y="395">30</text><text x="189.7" y="395">40</text><text x="249.2" y="395">50</text><text x="297.8" y="395">60</text><text x="339" y="395">70</text><text x="374.6" y="395">80</text><text x="406" y="395">90</text><text x="434" y="395">100</text><text x="618.9" y="395">200</text><text x="727" y="395">300</text><text x="417" y="411">Frequency</text></g>
 <text class="k" text-anchor="middle" transform="translate(41,212.5) rotate(-90)">NMSE (dB)</text>
</g>

<!-- ============ P33 ============ -->
<g transform="translate(690,364) scale(0.333333)">
 <g transform="translate(0,45) scale(1,13.4)"><g clip-path="url(#c3)" fill="none" stroke-linejoin="round" stroke-width="4.5" stroke-opacity=".16">
  <use href="#b33" stroke="#1f77b4" stroke-width="7" stroke-opacity=".26"/>
  <use href="#r33" transform="scale(1,.82)" stroke="#ff7f0e"/>
  <use href="#r33" transform="scale(1,.88)" stroke="#2ca02c"/>
  <use href="#r33" transform="scale(1,.93)" stroke="#d62728"/>
  <use href="#r33" transform="scale(1,.975)" stroke="#9467bd"/>
  <use href="#r33" stroke="#8c564b"/>
 </g></g>
 <path fill="none" stroke="#bbb" stroke-width="1.2" d="M125,45V380M201.7,45V380M261.2,45V380M309.8,45V380M351,45V380M386.6,45V380M418,45V380M446,45V380M630.9,45V380M739,45V380M96,112H751M96,179H751M96,246H751M96,313H751"/>
 <g transform="translate(0,45) scale(1,13.4)"><g clip-path="url(#c3)" fill="none" stroke-linejoin="round" stroke-width="1.1">
  <use href="#b33" stroke="#1f77b4"/>
  <use href="#r33" transform="scale(1,.82)" stroke="#ff7f0e"/>
  <use href="#r33" transform="scale(1,.88)" stroke="#2ca02c"/>
  <use href="#r33" transform="scale(1,.93)" stroke="#d62728"/>
  <use href="#r33" transform="scale(1,.975)" stroke="#9467bd"/>
  <use href="#r33" stroke="#8c564b"/>
 </g></g>
 <rect x="96" y="45" width="655" height="335" fill="none" stroke="#333" stroke-width="1"/>
 <path stroke="#333" stroke-width=".7" d="M125,380v6M201.7,380v6M261.2,380v6M309.8,380v6M351,380v6M386.6,380v6M418,380v6M446,380v6M630.9,380v6M739,380v6M96,45h-6M96,112h-6M96,179h-6M96,246h-6M96,313h-6M96,380h-6"/>
 <g class="k" text-anchor="end"><text x="88" y="50">0</text><text x="88" y="117">−5</text><text x="88" y="184">−10</text><text x="88" y="251">−15</text><text x="88" y="318">−20</text><text x="88" y="385">−25</text></g>
 <g class="k" text-anchor="middle"><text x="125" y="395">30</text><text x="201.7" y="395">40</text><text x="261.2" y="395">50</text><text x="309.8" y="395">60</text><text x="351" y="395">70</text><text x="386.6" y="395">80</text><text x="418" y="395">90</text><text x="446" y="395">100</text><text x="630.9" y="395">200</text><text x="739" y="395">300</text><text x="423.5" y="411">Frequency</text></g>
 <text class="k" text-anchor="middle" transform="translate(52,212.5) rotate(-90)">NMSE (dB)</text>
</g>
</svg>
</body></html>
